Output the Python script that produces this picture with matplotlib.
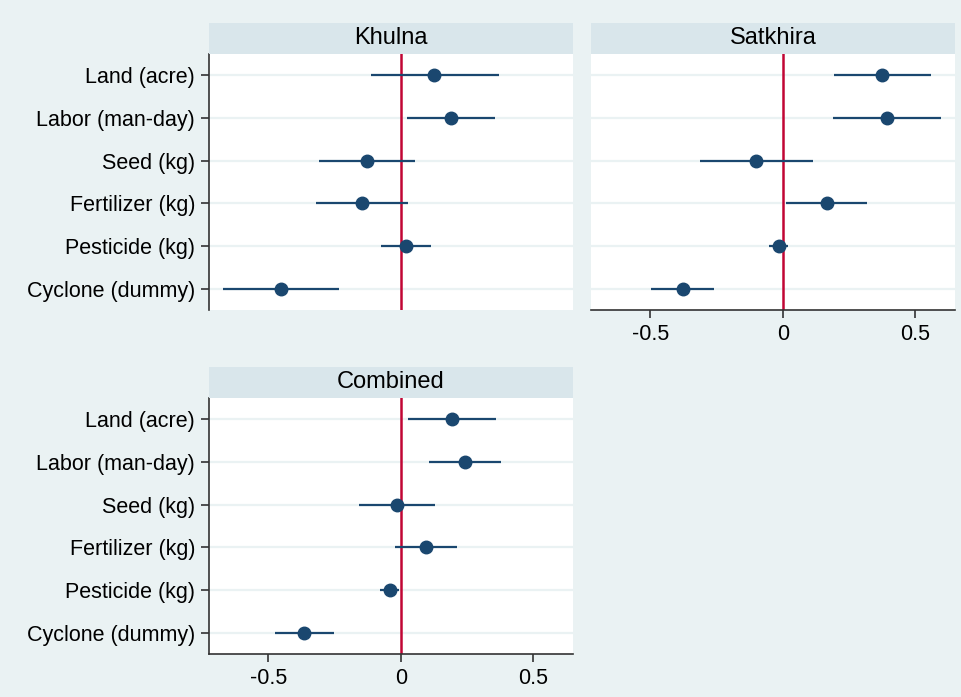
"""Coefficient plot: input elasticities by district (Khulna / Satkhira / combined)."""
import matplotlib
matplotlib.use("Agg")
import matplotlib.pyplot as plt  # noqa: E402

VARS = ["Land (acre)", "Labor (man-day)", "Seed (kg)", "Fertilizer (kg)",
        "Pesticide (kg)", "Cyclone (dummy)"]

khulna_coef = [0.126, 0.188, -0.127, -0.146, 0.019, -0.450]
khulna_lo = [-0.114, 0.024, -0.308, -0.318, -0.075, -0.670]
khulna_hi = [0.369, 0.356, 0.054, 0.026, 0.113, -0.233]

satkhira_coef = [0.375, 0.392, -0.100, 0.166, -0.015, -0.378]
satkhira_lo = [0.193, 0.190, -0.312, 0.012, -0.053, -0.496]
satkhira_hi = [0.558, 0.597, 0.112, 0.319, 0.021, -0.259]

combined_coef = [0.194, 0.241, -0.014, 0.095, -0.039, -0.364]
combined_lo = [0.026, 0.105, -0.158, -0.022, -0.077, -0.473]
combined_hi = [0.360, 0.377, 0.129, 0.212, -0.007, -0.251]

XTICKS = [-0.5, 0, 0.5]
XTICKLABELS = ["-0.5", "0", "0.5"]

BG = "#eaf2f3"
STRIP = "#d9e6eb"
NAVY = "#1a476f"
RED = "#c10534"
FS = 15.5

plt.rcParams["font.family"] = ["Liberation Sans", "DejaVu Sans"]

fig = plt.figure(figsize=(9.62, 6.97), dpi=100)
fig.patch.set_facecolor(BG)

W = 364 / 962
H = 256 / 697
SH = 31 / 697
panels = [
    ("Khulna", khulna_coef, khulna_lo, khulna_hi, 209 / 962, (697 - 310) / 697, True, False),
    ("Satkhira", satkhira_coef, satkhira_lo, satkhira_hi, 591 / 962, (697 - 310) / 697, False, True),
    ("Combined", combined_coef, combined_lo, combined_hi, 209 / 962, (697 - 654) / 697, True, True),
]

for title, coef, lo, hi, left, bottom, show_y, show_x in panels:
    ax = fig.add_axes([left, bottom, W, H])
    ax.set_facecolor("white")
    ypos = list(range(1, len(VARS) + 1))
    for y in ypos:
        ax.axhline(y, color=BG, lw=1.6, zorder=0)
    ax.axvline(0, color=RED, lw=1.8, zorder=1)
    ax.hlines(ypos, lo, hi, color=NAVY, lw=1.6, zorder=2)
    ax.plot(coef, ypos, "o", color=NAVY, ms=9, zorder=3)
    ax.set_xlim(-0.723, 0.649)
    ax.set_ylim(6.5, 0.5)
    for s in ["top", "right"]:
        ax.spines[s].set_visible(False)
    ax.spines["left"].set_visible(show_y)
    ax.spines["bottom"].set_visible(show_x)
    for s in ["left", "bottom"]:
        ax.spines[s].set_color("#333333")
        ax.spines[s].set_linewidth(1.2)
    if show_y:
        ax.set_yticks(ypos)
        ax.set_yticklabels(VARS, fontsize=FS)
        ax.tick_params(axis="y", length=6, width=1.2, color="#333333", pad=4)
    else:
        ax.set_yticks([])
    if show_x:
        ax.set_xticks(XTICKS)
        ax.set_xticklabels(XTICKLABELS, fontsize=FS)
        ax.tick_params(axis="x", length=6, width=1.2, color="#333333", pad=4)
    else:
        ax.set_xticks([])
    # strip title
    sax = fig.add_axes([left, bottom + H, W, SH])
    sax.set_facecolor(STRIP)
    sax.set_xticks([])
    sax.set_yticks([])
    for s in sax.spines.values():
        s.set_visible(False)
    sax.text(0.5, 0.5, title, ha="center", va="center", fontsize=17,
             transform=sax.transAxes)

fig.savefig("out.png", dpi=100, facecolor=BG)
